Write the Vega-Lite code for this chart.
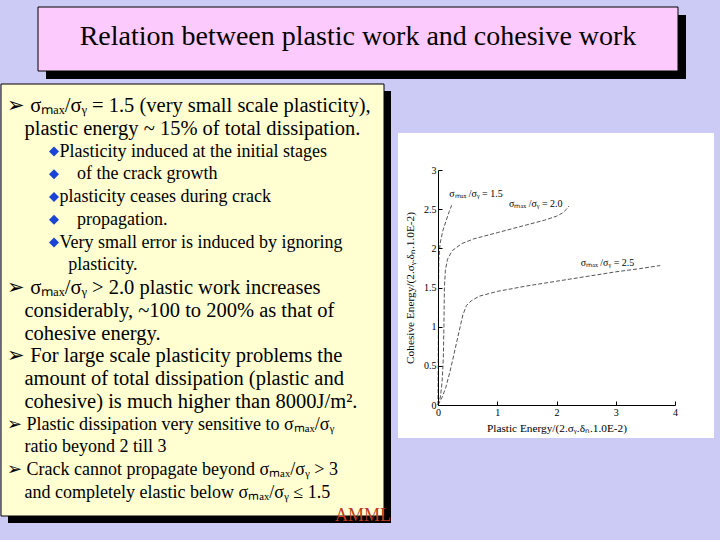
{
  "$schema": "https://vega.github.io/schema/vega-lite/v6.json",
  "background": "#cbcbf5",
  "padding": {"left": 0, "top": 6, "right": 6, "bottom": 16},
  "bounds": "flush",
  "spacing": 13,
  "config": {
    "view": {"stroke": null},
    "font": "Liberation Serif"
  },
  "vconcat": [
    {
      "width": 677,
      "height": 64,
      "data": {"values": [{"title": "Relation between plastic work and cohesive work"}]},
      "encoding": {
        "x": {"datum": 0, "type": "quantitative", "scale": {"domain": [0, 1], "range": [37, 677]}, "axis": null},
        "x2": {"datum": 1},
        "y": {"value": 0},
        "y2": {"value": "height"}
      },
      "layer": [
        {
          "mark": {"type": "rect", "fill": "black", "xOffset": 8, "x2Offset": 8, "yOffset": 8, "y2Offset": 8}
        },
        {
          "mark": {"type": "rect", "fill": "#fdcafd", "stroke": "black", "strokeWidth": 1}
        },
        {
          "mark": {"type": "text", "font": "Liberation Serif", "fontSize": 28, "color": "black", "baseline": "middle", "dy": -2},
          "encoding": {
            "x": {"datum": 0.5, "type": "quantitative"},
            "x2": null,
            "y": null,
            "y2": null,
            "text": {"field": "title"}
          }
        }
      ]
    },
    {
      "bounds": "flush",
      "spacing": 54,
      "hconcat": [
        {
          "width": 383,
          "height": 432,
          "data": {
            "values": [
              {"line": 1, "level": 0, "kind": "big", "bullet": false, "text": "➢ σₘₐₓ/σᵧ = 1.5 (very small scale plasticity),"},
              {"line": 2, "level": 1, "kind": "big", "bullet": false, "text": "plastic energy ~ 15% of total dissipation."},
              {"line": 3, "level": 3, "kind": "small", "bullet": true, "text": "Plasticity induced at the initial stages"},
              {"line": 4, "level": 4, "kind": "small", "bullet": true, "text": "of the crack growth"},
              {"line": 5, "level": 3, "kind": "small", "bullet": true, "text": "plasticity ceases during crack"},
              {"line": 6, "level": 4, "kind": "small", "bullet": true, "text": "propagation."},
              {"line": 7, "level": 3, "kind": "small", "bullet": true, "text": "Very small error is induced by ignoring"},
              {"line": 8, "level": 3.5, "kind": "small", "bullet": false, "text": "plasticity."},
              {"line": 9, "level": 0, "kind": "big", "bullet": false, "text": "➢ σₘₐₓ/σᵧ > 2.0 plastic work increases"},
              {"line": 10, "level": 1, "kind": "big", "bullet": false, "text": "considerably, ~100 to 200% as that of"},
              {"line": 11, "level": 1, "kind": "big", "bullet": false, "text": "cohesive energy."},
              {"line": 12, "level": 0, "kind": "big", "bullet": false, "text": "➢ For large scale plasticity problems the"},
              {"line": 13, "level": 1, "kind": "big", "bullet": false, "text": "amount of total dissipation (plastic and"},
              {"line": 14, "level": 1, "kind": "big", "bullet": false, "text": "cohesive) is much higher than 8000J/m²."},
              {"line": 15, "level": 0, "kind": "small", "bullet": false, "text": "➢ Plastic dissipation very sensitive to σₘₐₓ/σᵧ"},
              {"line": 16, "level": 1, "kind": "small", "bullet": false, "text": "ratio beyond 2 till 3"},
              {"line": 17, "level": 0, "kind": "small", "bullet": false, "text": "➢ Crack cannot propagate beyond σₘₐₓ/σᵧ > 3"},
              {"line": 18, "level": 1, "kind": "small", "bullet": false, "text": "and completely elastic below σₘₐₓ/σᵧ ≤ 1.5"}
            ]
          },
          "layer": [
            {
              "data": {"values": [{}]},
              "mark": {"type": "rect", "fill": "black", "xOffset": 7, "x2Offset": 7, "yOffset": 7, "y2Offset": 7},
              "encoding": {"x": {"value": 0}, "x2": {"value": "width"}, "y": {"value": 0}, "y2": {"value": "height"}}
            },
            {
              "data": {"values": [{}]},
              "mark": {"type": "rect", "fill": "#ffffd2", "stroke": "black", "strokeWidth": 1},
              "encoding": {"x": {"value": 0}, "x2": {"value": "width"}, "y": {"value": 0}, "y2": {"value": "height"}}
            },
            {
              "transform": [{"filter": "datum.bullet"}],
              "mark": {"type": "point", "shape": "diamond", "filled": true, "color": "#1a44d8", "size": 100, "opacity": 1, "xOffset": 12},
              "encoding": {
                "x": {"datum": 2, "type": "quantitative", "scale": {"domain": [0, 4], "range": [6, 76]}, "axis": null},
                "y": {"field": "line", "type": "quantitative", "scale": {"domain": [1, 18], "range": [22, 409]}, "axis": null}
              }
            },
            {
              "mark": {"type": "text", "font": "Liberation Serif", "align": "left", "baseline": "middle", "color": "black"},
              "encoding": {
                "x": {"field": "level", "type": "quantitative", "scale": {"domain": [0, 4], "range": [6, 76]}, "axis": null},
                "y": {"field": "line", "type": "quantitative", "scale": {"domain": [1, 18], "range": [22, 409]}, "axis": null},
                "size": {"field": "kind", "type": "ordinal", "scale": {"domain": ["big", "small"], "range": [20.5, 18]}, "legend": null},
                "text": {"field": "text"}
              }
            },
            {
              "data": {"values": [{"label": "AMML"}]},
              "mark": {"type": "text", "font": "Liberation Serif", "fontSize": 18, "align": "right", "baseline": "middle", "color": "#c23a1e", "dx": 7},
              "encoding": {"x": {"value": "width"}, "y": {"value": "height"}, "text": {"field": "label"}}
            }
          ]
        },
        {
          "width": 277,
          "height": 321,
          "layer": [
            {
              "data": {"values": [{}]},
              "mark": {"type": "rect", "fill": "white", "xOffset": -40, "x2Offset": 39, "yOffset": 33, "y2Offset": -37},
              "encoding": {
                "x": {"datum": 0, "type": "quantitative", "title": "Plastic Energy/(2.σᵧ.δₙ.1.0E-2)"},
                "x2": {"datum": 4},
                "y": {"datum": 0, "type": "quantitative", "title": "Cohesive Energy/(2.σᵧ.δₙ.1.0E-2)"},
                "y2": {"datum": 3}
              }
            },
            {
              "data": {
                "values": [
                  {"ratio": "1.5", "order": 1, "pe": 0, "ce": 0},
                  {"ratio": "1.5", "order": 2, "pe": 0.004, "ce": 0.5},
                  {"ratio": "1.5", "order": 3, "pe": 0.007, "ce": 1.0},
                  {"ratio": "1.5", "order": 4, "pe": 0.009, "ce": 1.5},
                  {"ratio": "1.5", "order": 5, "pe": 0.013, "ce": 1.85},
                  {"ratio": "1.5", "order": 6, "pe": 0.035, "ce": 2.06},
                  {"ratio": "1.5", "order": 7, "pe": 0.08, "ce": 2.22},
                  {"ratio": "1.5", "order": 8, "pe": 0.14, "ce": 2.36},
                  {"ratio": "1.5", "order": 9, "pe": 0.19, "ce": 2.47},
                  {"ratio": "1.5", "order": 10, "pe": 0.23, "ce": 2.55},
                  {"ratio": "2.0", "order": 1, "pe": 0, "ce": 0},
                  {"ratio": "2.0", "order": 2, "pe": 0.04, "ce": 0.1},
                  {"ratio": "2.0", "order": 3, "pe": 0.07, "ce": 0.3},
                  {"ratio": "2.0", "order": 4, "pe": 0.09, "ce": 0.6},
                  {"ratio": "2.0", "order": 5, "pe": 0.1, "ce": 1.0},
                  {"ratio": "2.0", "order": 6, "pe": 0.108, "ce": 1.5},
                  {"ratio": "2.0", "order": 7, "pe": 0.125, "ce": 1.72},
                  {"ratio": "2.0", "order": 8, "pe": 0.16, "ce": 1.86},
                  {"ratio": "2.0", "order": 9, "pe": 0.24, "ce": 1.97},
                  {"ratio": "2.0", "order": 10, "pe": 0.4, "ce": 2.06},
                  {"ratio": "2.0", "order": 11, "pe": 0.6, "ce": 2.12},
                  {"ratio": "2.0", "order": 12, "pe": 1.0, "ce": 2.2},
                  {"ratio": "2.0", "order": 13, "pe": 1.5, "ce": 2.3},
                  {"ratio": "2.0", "order": 14, "pe": 1.8, "ce": 2.36},
                  {"ratio": "2.0", "order": 15, "pe": 2.0, "ce": 2.41},
                  {"ratio": "2.0", "order": 16, "pe": 2.1, "ce": 2.45},
                  {"ratio": "2.0", "order": 17, "pe": 2.17, "ce": 2.5},
                  {"ratio": "2.0", "order": 18, "pe": 2.21, "ce": 2.54},
                  {"ratio": "2.5", "order": 1, "pe": 0, "ce": 0},
                  {"ratio": "2.5", "order": 2, "pe": 0.07, "ce": 0.1},
                  {"ratio": "2.5", "order": 3, "pe": 0.13, "ce": 0.22},
                  {"ratio": "2.5", "order": 4, "pe": 0.2, "ce": 0.42},
                  {"ratio": "2.5", "order": 5, "pe": 0.27, "ce": 0.65},
                  {"ratio": "2.5", "order": 6, "pe": 0.35, "ce": 0.92},
                  {"ratio": "2.5", "order": 7, "pe": 0.42, "ce": 1.15},
                  {"ratio": "2.5", "order": 8, "pe": 0.48, "ce": 1.27},
                  {"ratio": "2.5", "order": 9, "pe": 0.56, "ce": 1.33},
                  {"ratio": "2.5", "order": 10, "pe": 0.7, "ce": 1.39},
                  {"ratio": "2.5", "order": 11, "pe": 1.0, "ce": 1.45},
                  {"ratio": "2.5", "order": 12, "pe": 1.5, "ce": 1.52},
                  {"ratio": "2.5", "order": 13, "pe": 2.0, "ce": 1.58},
                  {"ratio": "2.5", "order": 14, "pe": 2.5, "ce": 1.64},
                  {"ratio": "2.5", "order": 15, "pe": 3.0, "ce": 1.7},
                  {"ratio": "2.5", "order": 16, "pe": 3.4, "ce": 1.74},
                  {"ratio": "2.5", "order": 17, "pe": 3.75, "ce": 1.78}
                ]
              },
              "mark": {"type": "line", "color": "#555555", "strokeWidth": 1, "strokeDash": [4, 2]},
              "encoding": {
                "x": {
                  "field": "pe",
                  "type": "quantitative",
                  "title": "Plastic Energy/(2.σᵧ.δₙ.1.0E-2)",
                  "scale": {"domain": [0, 4], "range": [0, 237]},
                  "axis": {
                    "zindex": 1,
                    "values": [0, 0.5, 1, 1.5, 2, 2.5, 3, 3.5, 4],
                    "format": "~g",
                    "labelExpr": "datum.value % 1 ? '' : datum.label",
                    "grid": false,
                    "domainColor": "black",
                    "tickColor": "black",
                    "tickSize": -4,
                    "labelPadding": 6,
                    "labelFont": "Liberation Serif",
                    "labelFontSize": 10,
                    "labelColor": "black",
                    "labelFlush": false,
                    "titleFont": "Liberation Serif",
                    "titleFontSize": 11.3,
                    "titleFontWeight": "normal",
                    "titleColor": "black",
                    "titlePadding": 5
                  }
                },
                "y": {
                  "field": "ce",
                  "type": "quantitative",
                  "title": "Cohesive Energy/(2.σᵧ.δₙ.1.0E-2)",
                  "scale": {"domain": [0, 3], "range": [321, 86]},
                  "axis": {
                    "zindex": 1,
                    "values": [0, 0.25, 0.5, 0.75, 1, 1.25, 1.5, 1.75, 2, 2.25, 2.5, 2.75, 3],
                    "format": ".1~f",
                    "labelExpr": "(datum.value * 4) % 2 ? '' : datum.label",
                    "grid": false,
                    "domainColor": "black",
                    "tickColor": "black",
                    "tickSize": -4,
                    "labelPadding": 6,
                    "labelFont": "Liberation Serif",
                    "labelFontSize": 10,
                    "labelColor": "black",
                    "labelFlush": false,
                    "titleFont": "Liberation Serif",
                    "titleFontSize": 11.3,
                    "titleFontWeight": "normal",
                    "titleColor": "black",
                    "titlePadding": 8
                  }
                },
                "detail": {"field": "ratio"},
                "order": {"field": "order"}
              }
            },
            {
              "data": {
                "values": [
                  {"label": "σₘₐₓ /σᵧ = 1.5", "lx": 0.19, "ly": 2.69},
                  {"label": "σₘₐₓ /σᵧ = 2.0", "lx": 1.2, "ly": 2.57},
                  {"label": "σₘₐₓ /σᵧ = 2.5", "lx": 2.41, "ly": 1.81}
                ]
              },
              "mark": {"type": "text", "font": "Liberation Serif", "fontSize": 10, "align": "left", "baseline": "middle", "color": "black"},
              "encoding": {
                "x": {"field": "lx", "type": "quantitative", "title": "Plastic Energy/(2.σᵧ.δₙ.1.0E-2)"},
                "y": {"field": "ly", "type": "quantitative", "title": "Cohesive Energy/(2.σᵧ.δₙ.1.0E-2)"},
                "text": {"field": "label"}
              }
            }
          ]
        }
      ]
    }
  ]
}
